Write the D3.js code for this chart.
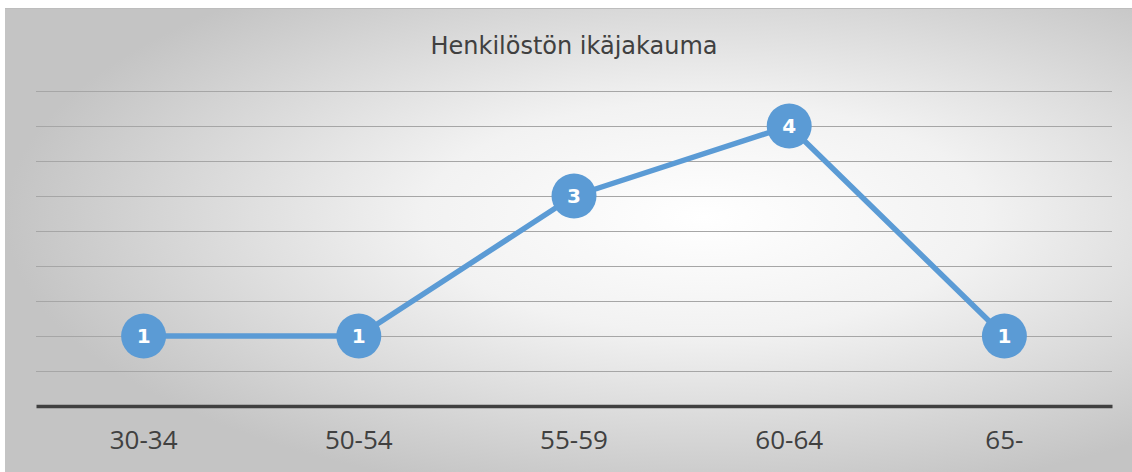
<!DOCTYPE html>
<html>
<head>
<meta charset="utf-8">
<script src="https://cdn.jsdelivr.net/npm/d3@7"></script>
<style>
  body { margin: 0; background: #ffffff; }
  svg { display: block; }
</style>
</head>
<body>
<div id="chart"></div>
<script>
// data
var categories = ["30-34", "50-54", "55-59", "60-64", "65-"];
var values = [1, 1, 3, 4, 1];
var title = "Henkilöstön ikäjakauma";
var gridTicks = [0.5, 1, 1.5, 2, 2.5, 3, 3.5, 4, 4.5];

var W = 1132, H = 472;
var margin = {top: 91, right: 20, bottom: 66, left: 36};
var plotW = 1112 - margin.left,
    plotH = 406 - margin.top;

var svg = d3.select("#chart").append("svg")
  .attr("width", W)
  .attr("height", H);

// background gradient
var defs = svg.append("defs");
var grad = defs.append("radialGradient")
  .attr("id", "bg")
  .attr("cx", "0.62").attr("cy", "0.45")
  .attr("r", "0.62")
  .attr("gradientUnits", "objectBoundingBox");
grad.append("stop").attr("offset", "0%").attr("stop-color", "#ffffff");
grad.append("stop").attr("offset", "40%").attr("stop-color", "#f2f2f2");
grad.append("stop").attr("offset", "100%").attr("stop-color", "#c4c4c4");

svg.append("rect")
  .attr("x", 5).attr("y", 8)
  .attr("width", W - 5).attr("height", H - 8)
  .attr("fill", "url(#bg)");
svg.append("line")
  .attr("x1", 5).attr("x2", W).attr("y1", 8.5).attr("y2", 8.5)
  .attr("stroke", "#bdbdbd").attr("stroke-width", 1);

svg.append("text")
  .attr("x", 574).attr("y", 54)
  .attr("text-anchor", "middle")
  .style("font-family", "DejaVu Sans, Verdana, sans-serif")
  .style("font-size", "24px")
  .style("fill", "#404040")
  .text(title);

var g = svg.append("g")
  .attr("transform", "translate(" + margin.left + "," + margin.top + ")");

var x = d3.scaleBand()
  .domain(categories)
  .range([0, plotW]);

var y = d3.scaleLinear()
  .domain([0, 4.5])
  .range([plotH, 0]);

// gridlines
g.selectAll(".grid")
  .data(gridTicks)
  .enter().append("line")
  .attr("x1", 0).attr("x2", plotW)
  .attr("y1", function(d){ return Math.round(y(d)) + 0.5; })
  .attr("y2", function(d){ return Math.round(y(d)) + 0.5; })
  .attr("stroke", "#a6a6a6")
  .attr("stroke-width", 1.2);

// x axis
var xAxis = d3.axisBottom(x).tickSize(0).tickPadding(25);
var xg = g.append("g")
  .attr("transform", "translate(0," + y(0) + ")")
  .call(xAxis);
xg.select(".domain")
  .attr("stroke", "#404040")
  .attr("stroke-width", 3.5);
xg.selectAll("text")
  .style("font-family", "Open Sans, Noto Sans, sans-serif")
  .style("font-size", "26px")
  .style("fill", "#404040");

// line
var line = d3.line()
  .x(function(d, i){ return x(categories[i]) + x.bandwidth() / 2; })
  .y(function(d){ return y(d); });

g.append("path")
  .datum(values)
  .attr("fill", "none")
  .attr("stroke", "#5b9bd5")
  .attr("stroke-width", 5.5)
  .attr("stroke-linejoin", "round")
  .attr("d", line);

// markers
var pts = g.selectAll(".pt")
  .data(values)
  .enter().append("g")
  .attr("transform", function(d, i){
    return "translate(" + (x(categories[i]) + x.bandwidth() / 2) + "," + y(d) + ")";
  });

pts.append("circle")
  .attr("r", 22.5)
  .attr("fill", "#5b9bd5");

pts.append("text")
  .attr("text-anchor", "middle")
  .attr("dy", "0.36em")
  .style("font-family", "DejaVu Sans, Verdana, sans-serif")
  .style("font-weight", "bold")
  .style("font-size", "20px")
  .style("fill", "#ffffff")
  .text(function(d){ return d; });
</script>
</body>
</html>
